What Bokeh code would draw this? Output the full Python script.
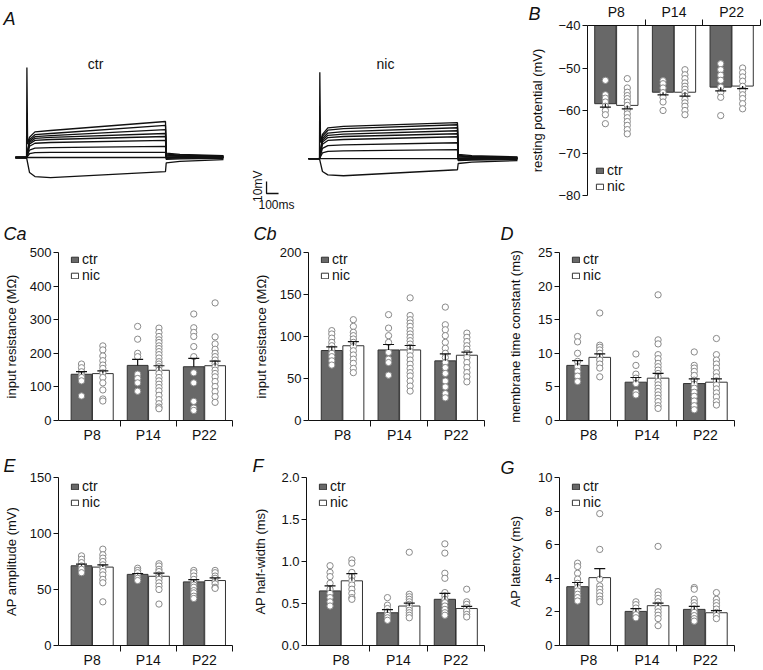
import math
from bokeh.plotting import figure
from bokeh.models import (Range1d, FixedTicker, Whisker, TeeHead, Legend, LegendItem,
                          Label, ColumnDataSource, LinearAxis)
from bokeh.layouts import column, row
from bokeh.embed import file_html
from bokeh.resources import INLINE

FONT = "Liberation Sans"
INK = "#111111"
CTR_FILL = "#686868"
BAR_LINE = "#333333"
DOT_LINE = "#8a8a8a"

GROUPS = ["P8", "P14", "P22"]

# ---------------- Panel A: example voltage responses (mV vs ms) ----------------
CTR_TIMES = [0, 92, 1250, 1733]          # trace start, step on, step off, trace end (ms)
NIC_TIMES = [2442, 2533, 3683, 4183]
CTR_BASE = -60.0
NIC_BASE = -61.0
CTR_EARLY = [-37.5, -40.0, -41.7, -43.3, -45.0, -47.5, -51.7, -55.8, -60.0, -76.7]
CTR_LATE = [-30.0, -33.3, -36.7, -40.0, -42.5, -45.8, -50.8, -55.8, -60.0, -71.7]
CTR_TAIL = [3.6, 2.8, 2.1, 1.5, 0.8, 0.2, -0.8, -1.6, 0.0, -4.5]
CTR_SPIKE = 15.0
NIC_EARLY = [-34.0, -36.0, -38.5, -40.5, -42.5, -45.0, -49.5, -54.5, -61.0, -75.2]
NIC_LATE = [-31.0, -32.7, -35.2, -37.7, -40.2, -42.7, -47.7, -53.5, -61.0, -70.2]
NIC_TAIL = [3.6, 2.8, 2.1, 1.5, 0.8, 0.2, -0.8, -1.6, 0.0, -4.0]
NIC_SPIKE = 11.0
SCALE_MS = 100
SCALE_MV = 10

# ---------------- B: resting potential (mV) ----------------
B_CTR_MEAN = [-58.4, -55.7, -54.5]
B_CTR_SEM = [0.8, 0.6, 0.9]
B_NIC_MEAN = [-58.8, -55.7, -54.25]
B_NIC_SEM = [0.8, 0.9, 0.6]
B_CTR_PTS = [[-52.9, -56.3, -57.1, -58.0, -59.0, -60.0, -61.0, -63.1],
             [-53.0, -53.7, -54.7, -55.8, -56.9, -58.0, -60.0],
             [-49.0, -50.4, -51.7, -52.9, -54.5, -55.7, -56.9, -61.2]]
B_NIC_PTS = [[-52.5, -54.7, -55.7, -56.5, -57.2, -58.0, -58.8, -59.8, -60.8, -61.7, -62.6, -63.5, -64.5, -65.5],
             [-50.4, -51.6, -52.5, -53.5, -54.3, -55.0, -55.8, -56.6, -57.4, -58.2, -59.0, -60.0, -61.0],
             [-50.0, -51.1, -52.1, -53.1, -54.3, -55.3, -56.3, -57.2, -58.4, -59.6]]

# ---------------- Ca: input resistance (MOhm) ----------------
CA_CTR_MEAN = [137.6, 164.0, 160.0]
CA_CTR_SEM = [8.0, 18.0, 25.0]
CA_NIC_MEAN = [139.6, 149.5, 163.0]
CA_NIC_SEM = [8.0, 13.5, 14.0]
CA_CTR_PTS = [[168, 157, 145, 135, 128, 118, 73],
              [280, 242, 200, 190, 138, 125, 112, 87],
              [317, 276, 262, 250, 220, 190, 142, 112, 57, 37, 30]]
CA_NIC_PTS = [[222, 210, 192, 178, 165, 155, 142, 128, 112, 91, 64, 58],
              [275, 262, 250, 240, 232, 222, 214, 205, 196, 186, 175, 168, 160, 150, 140, 128, 118,
               108, 98, 88, 75, 62, 50, 40, 35],
              [350, 249, 228, 212, 200, 190, 180, 170, 160, 150, 140, 130, 116, 101, 86, 71, 54]]

# ---------------- Cb: input resistance (MOhm) ----------------
CB_CTR_MEAN = [83.3, 84.0, 71.0]
CB_CTR_SEM = [4.4, 6.5, 8.3]
CB_NIC_MEAN = [89.0, 84.0, 77.7]
CB_NIC_SEM = [5.0, 5.3, 3.6]
CB_CTR_PTS = [[107, 103, 98, 93, 89, 85, 80, 76, 71, 66],
              [126, 110, 101, 93, 81, 73, 69, 54],
              [135, 114, 108, 101, 93, 86, 80, 75, 69, 63, 56, 47, 40, 32, 27]]
CB_NIC_PTS = [[120, 112, 105, 101, 97, 93, 88, 83, 78, 73, 68, 62, 57],
              [146, 125, 120, 116, 112, 107, 103, 99, 95, 91, 87, 82, 77, 72, 67, 62, 57, 53, 47, 41, 35],
              [104, 99, 94, 89, 85, 80, 75, 69, 63, 57, 52, 46]]

# ---------------- D: membrane time constant (ms) ----------------
D_CTR_MEAN = [8.2, 5.7, 5.5]
D_CTR_SEM = [0.7, 0.7, 0.7]
D_NIC_MEAN = [9.4, 6.3, 5.7]
D_NIC_SEM = [0.5, 0.7, 0.5]
D_CTR_PTS = [[12.5, 11.7, 10.0, 8.8, 8.0, 7.3, 6.6, 5.8],
             [9.9, 8.2, 6.9, 6.3, 5.5, 4.2, 3.8],
             [10.2, 8.2, 7.8, 7.3, 6.7, 6.0, 5.4, 4.8, 4.2, 3.6, 2.9, 2.2, 1.6]]
D_NIC_PTS = [[16.0, 11.2, 10.9, 10.5, 10.0, 9.5, 9.0, 8.4, 7.8, 6.5],
             [18.7, 12.0, 11.4, 9.8, 9.2, 8.5, 8.0, 7.5, 7.0, 6.5, 5.8, 5.3, 4.8, 4.3, 3.8, 3.3, 2.8, 2.2, 1.8],
             [12.2, 9.8, 9.0, 8.4, 7.8, 7.1, 6.5, 5.9, 5.3, 4.7, 4.1, 3.5, 2.8, 2.3]]

# ---------------- E: AP amplitude (mV) ----------------
E_CTR_MEAN = [71.2, 63.5, 56.8]
E_CTR_SEM = [1.4, 0.8, 2.0]
E_NIC_MEAN = [70.0, 61.8, 58.0]
E_NIC_SEM = [2.0, 2.9, 2.3]
E_CTR_PTS = [[80, 77, 74, 71, 68, 65],
             [69, 67, 65, 62, 60, 58],
             [67, 65, 62, 59, 56, 54, 52, 49, 47, 44, 42]]
E_NIC_PTS = [[86, 81, 78, 75, 72, 69, 66, 63, 59, 56, 39],
             [73, 71, 68, 66, 63, 61, 59, 56, 53, 50, 37],
             [67, 65, 62, 60, 57, 55, 52, 51]]

# ---------------- F: AP half-width (ms) ----------------
F_CTR_MEAN = [0.65, 0.39, 0.55]
F_CTR_SEM = [0.06, 0.036, 0.07]
F_NIC_MEAN = [0.77, 0.47, 0.44]
F_NIC_SEM = [0.086, 0.035, 0.025]
F_CTR_PTS = [[0.95, 0.87, 0.82, 0.74, 0.67, 0.62, 0.57, 0.52, 0.47],
             [0.57, 0.48, 0.44, 0.40, 0.36, 0.33, 0.30],
             [1.21, 1.10, 0.86, 0.80, 0.63, 0.59, 0.55, 0.51, 0.47, 0.43, 0.39, 0.36]]
F_NIC_PTS = [[1.02, 0.98, 0.87, 0.82, 0.77, 0.72, 0.67, 0.62, 0.57, 0.55],
             [1.11, 0.61, 0.58, 0.55, 0.52, 0.49, 0.45, 0.42, 0.39, 0.36, 0.33],
             [0.67, 0.52, 0.49, 0.45, 0.41, 0.37, 0.34]]

# ---------------- G: AP latency (ms) ----------------
G_CTR_MEAN = [3.5, 2.03, 2.15]
G_CTR_SEM = [0.25, 0.17, 0.18]
G_NIC_MEAN = [4.04, 2.37, 1.95]
G_NIC_SEM = [0.54, 0.15, 0.12]
G_CTR_PTS = [[4.9, 4.7, 4.3, 3.95, 3.7, 3.45, 3.25, 3.05, 2.85, 2.65],
             [2.6, 2.43, 2.23, 2.03, 1.83, 1.65],
             [3.45, 3.35, 2.75, 2.55, 2.37, 2.17, 1.97, 1.78, 1.6, 1.45]]
G_NIC_PTS = [[7.85, 5.72, 3.95, 3.55, 3.35, 3.15, 2.95, 2.75, 2.6],
             [5.9, 3.2, 3.0, 2.8, 2.6, 2.4, 2.2, 2.0, 1.8, 1.6, 1.18],
             [3.15, 2.75, 2.55, 2.37, 2.17, 1.97, 1.78, 1.6]]


def step_trace(times, base, early, late, tail, spike=None):
    t0, ton, toff, tend = times
    d = early - base
    ts = [t0, ton]
    vs = [base, base]
    if spike is not None:
        ts += [ton + 3, ton + 9]
        vs += [spike, base + 0.5 * d]
    ts += [ton + 25, ton + 70, ton + 200, toff, toff + 6, toff + 120, tend]
    vs += [base + 0.75 * d, base + 0.95 * d, early, late,
           base + tail, base + 0.7 * tail, base + 0.4 * tail]
    return ts, vs


def panel_a():
    # frame = whole canvas (525 x 215 px); 0.12 px/ms, 1.2 px/mV
    p = figure(width=525, height=215, x_range=Range1d(-125, 4250), y_range=Range1d(-108.33, 70.83),
               x_axis_location=None, y_axis_location=None, min_border=0, frame_align=False,
               toolbar_location=None, output_backend="svg")
    p.grid.visible = False
    p.outline_line_color = None
    for times, base, early, late, tail, spike in (
            (CTR_TIMES, CTR_BASE, CTR_EARLY, CTR_LATE, CTR_TAIL, CTR_SPIKE),
            (NIC_TIMES, NIC_BASE, NIC_EARLY, NIC_LATE, NIC_TAIL, NIC_SPIKE)):
        for i in range(len(early)):
            ts, vs = step_trace(times, base, early[i], late[i], tail[i], spike if i == 0 else None)
            p.line(ts, vs, line_color=INK, line_width=1.3)
    # scale bar
    sx = 2092
    sy = -90
    p.line([sx, sx, sx + SCALE_MS], [sy + SCALE_MV, sy, sy], line_color=INK, line_width=1.3)
    p.add_layout(Label(x=sx - 75, y=sy - 7, text=f"{SCALE_MV}mV", angle=math.pi / 2,
                       text_font=FONT, text_font_size="12px", text_color=INK,
                       text_align="left", text_baseline="middle"))
    p.add_layout(Label(x=sx - 67, y=sy - 9.2, text=f"{SCALE_MS}ms",
                       text_font=FONT, text_font_size="12px", text_color=INK,
                       text_align="left", text_baseline="middle"))
    for txt, t in (("ctr", 667), ("nic", 3083)):
        p.add_layout(Label(x=t, y=17.5, text=txt, text_font=FONT, text_font_size="14px",
                           text_color=INK, text_align="center", text_baseline="middle"))
    p.add_layout(Label(x=-100, y=55.8, text="A", text_font=FONT, text_font_style="italic",
                       text_font_size="18px", text_color=INK, text_baseline="alphabetic"))
    return p


def bar_panel(width, height, borders, x_lo, y_lo, y_hi, y_ticks, y_labels, y_title, title_standoff,
              ctr_mean, ctr_sem, ctr_pts, nic_mean, nic_sem, nic_pts,
              letter, letter_offset, letter_standoff, legend_xy, legend_spacing=-6, hanging=False,
              letter_valign="bottom"):
    bl, br, bt, bb = borders
    p = figure(width=width, height=height, x_range=Range1d(x_lo, 3.5), y_range=Range1d(y_lo, y_hi),
               min_border_left=bl, min_border_right=br, min_border_top=bt, min_border_bottom=bb,
               x_axis_location="above" if hanging else "below", frame_align=False,
               toolbar_location=None, output_backend="svg")
    p.grid.visible = False
    p.outline_line_color = None
    if letter_offset is not None:
        p.title.text = letter
        p.title.align = "left"
        p.title.vertical_align = letter_valign
        p.title.offset = letter_offset
        p.title.standoff = letter_standoff
        p.title.text_font = FONT
        p.title.text_font_style = "italic"
        p.title.text_font_size = "18px"
        p.title.text_color = INK
    centers = [1, 2, 3]
    xc = [c - 0.19 for c in centers]
    xn = [c + 0.19 for c in centers]
    bar_kw = dict(width=0.37, line_color=BAR_LINE, line_width=1)
    if hanging:
        rc = p.vbar(x=xc, top=y_hi, bottom=ctr_mean, fill_color=CTR_FILL, **bar_kw)
        rn = p.vbar(x=xn, top=y_hi, bottom=nic_mean, fill_color="white", **bar_kw)
    else:
        rc = p.vbar(x=xc, top=ctr_mean, bottom=y_lo, fill_color=CTR_FILL, **bar_kw)
        rn = p.vbar(x=xn, top=nic_mean, bottom=y_lo, fill_color="white", **bar_kw)
    dx, dy = [], []
    for xs, pts in ((xc, ctr_pts), (xn, nic_pts)):
        for x, vals in zip(xs, pts):
            dx += [x] * len(vals)
            dy += list(vals)
    p.scatter(dx, dy, size=6.3, fill_color="white", line_color=DOT_LINE, line_width=1)
    for xs, m, s in ((xc, ctr_mean, ctr_sem), (xn, nic_mean, nic_sem)):
        head = TeeHead(size=11, line_color=INK, line_width=1.2)
        if hanging:
            src = ColumnDataSource(dict(x=xs, a=[mi - si for mi, si in zip(m, s)], b=list(m)))
            w = Whisker(source=src, base="x", lower="a", upper="b", lower_head=head, upper_head=None,
                        line_color=INK, line_width=1.2, level="annotation")
        else:
            src = ColumnDataSource(dict(x=xs, a=list(m), b=[mi + si for mi, si in zip(m, s)]))
            w = Whisker(source=src, base="x", lower="a", upper="b", upper_head=head, lower_head=None,
                        line_color=INK, line_width=1.2, level="annotation")
        p.add_layout(w)

    xa = p.xaxis[0]
    xa.ticker = FixedTicker(ticks=[1, 2, 3], minor_ticks=[1.5, 2.5, 3.5])
    xa.major_label_overrides = {1: GROUPS[0], 2: GROUPS[1], 3: GROUPS[2]}
    xa.major_tick_out = 0
    xa.major_tick_in = 0
    xa.minor_tick_out = 6
    xa.minor_tick_in = 0
    xa.minor_tick_line_color = INK
    xa.axis_line_color = INK
    xa.major_label_text_font = FONT
    xa.major_label_text_font_size = "14px"
    xa.major_label_text_color = INK
    xa.major_label_standoff = 0

    ya = p.yaxis[0]
    ya.ticker = FixedTicker(ticks=y_ticks)
    ya.major_label_overrides = dict(zip(y_ticks, y_labels))
    ya.major_tick_out = 5
    ya.major_tick_in = 0
    ya.minor_tick_out = 0
    ya.minor_tick_in = 0
    ya.major_tick_line_color = INK
    ya.axis_line_color = INK
    ya.major_label_standoff = 2
    ya.major_label_text_font = FONT
    ya.major_label_text_font_size = "13px"
    ya.major_label_text_color = INK
    ya.axis_label = y_title
    ya.axis_label_standoff = title_standoff
    ya.axis_label_text_font = FONT
    ya.axis_label_text_font_size = "13px"
    ya.axis_label_text_font_style = "normal"
    ya.axis_label_text_color = INK

    leg = Legend(items=[LegendItem(label="ctr", renderers=[rc]), LegendItem(label="nic", renderers=[rn])],
                 location=legend_xy, glyph_width=9, glyph_height=7, label_height=10, label_width=10,
                 label_standoff=3, spacing=legend_spacing, padding=0, margin=0,
                 border_line_color=None, background_fill_alpha=0,
                 label_text_font=FONT, label_text_font_size="14px", label_text_color=INK)
    p.add_layout(leg)
    return p


pa = panel_a()
pb = bar_panel(238, 215, (62, 3, 25, 20), 0.5, -80, -40,
               [-80, -70, -60, -50, -40], ["\u221280", "\u221270", "\u221260", "\u221250", "\u221240"],
               "resting potential (mV)", 10,
               B_CTR_MEAN, B_CTR_SEM, B_CTR_PTS, B_NIC_MEAN, B_NIC_SEM, B_NIC_PTS,
               "B", None, 0, (8, 1), legend_spacing=-4, hanging=True)
# panel letter "B": an outer, line-less left axis whose single tick label is the letter
pb.extra_y_ranges = {"letter": Range1d(0, 1)}
letter_axis = LinearAxis(y_range_name="letter", ticker=FixedTicker(ticks=[1]),
                         major_label_overrides={1: "B\n "}, axis_line_color=None,
                         major_tick_line_color=None, minor_tick_line_color=None,
                         major_tick_out=0, major_tick_in=0, minor_tick_out=0, minor_tick_in=0,
                         major_label_standoff=-13, major_label_text_font=FONT,
                         major_label_text_font_style="italic", major_label_text_font_size="18px",
                         major_label_text_color=INK)
pb.add_layout(letter_axis, "left")

pca = bar_panel(250, 230, (53, 18, 37, 24), 0.4, 0, 500,
                [0, 100, 200, 300, 400, 500], ["0", "100", "200", "300", "400", "500"],
                "input resistance (M\u03a9)", 8,
                CA_CTR_MEAN, CA_CTR_SEM, CA_CTR_PTS, CA_NIC_MEAN, CA_NIC_SEM, CA_NIC_PTS,
                "Ca", -55, 13, (12, 137), letter_valign="top")
pcb = bar_panel(250, 230, (53, 16, 37, 24), 0.4, 0, 200,
                [0, 50, 100, 150, 200], ["0", "50", "100", "150", "200"],
                "input resistance (M\u03a9)", 8,
                CB_CTR_MEAN, CB_CTR_SEM, CB_CTR_PTS, CB_NIC_MEAN, CB_NIC_SEM, CB_NIC_PTS,
                "Cb", -55, 13, (12, 137), letter_valign="top")
pd = bar_panel(263, 230, (59, 29, 37, 24), 0.5, 0, 25,
               [0, 5, 10, 15, 20, 25], ["0", "5", "10", "15", "20", "25"],
               "membrane time constant (ms)", 12,
               D_CTR_MEAN, D_CTR_SEM, D_CTR_PTS, D_NIC_MEAN, D_NIC_SEM, D_NIC_PTS,
               "D", -59, 13, (12, 137), letter_valign="top")
pe = bar_panel(250, 225, (53, 18, 32, 23), 0.4, 0, 150,
               [0, 50, 100, 150], ["0", "50", "100", "150"],
               "AP amplitude (mV)", 8,
               E_CTR_MEAN, E_CTR_SEM, E_CTR_PTS, E_NIC_MEAN, E_NIC_SEM, E_NIC_PTS,
               "E", -55, 4, (12, 135))
pf = bar_panel(250, 225, (53, 16, 32, 23), 0.4, 0, 2.0,
               [0, 0.5, 1.0, 1.5, 2.0], ["0.0", "0.5", "1.0", "1.5", "2.0"],
               "AP half-width (ms)", 10,
               F_CTR_MEAN, F_CTR_SEM, F_CTR_PTS, F_NIC_MEAN, F_NIC_SEM, F_NIC_PTS,
               "F", -54, 4, (12, 135))
pg = bar_panel(263, 225, (59, 29, 32, 23), 0.5, 0, 10,
               [0, 2, 4, 6, 8, 10], ["0", "2", "4", "6", "8", "10"],
               "AP latency (ms)", 12,
               G_CTR_MEAN, G_CTR_SEM, G_CTR_PTS, G_NIC_MEAN, G_NIC_SEM, G_NIC_PTS,
               "G", -59, 0, (12, 135))

layout = column(row(pa, pb), row(pca, pcb, pd), row(pe, pf, pg))

with open("out.html", "w") as f:
    f.write(file_html(layout, INLINE))
